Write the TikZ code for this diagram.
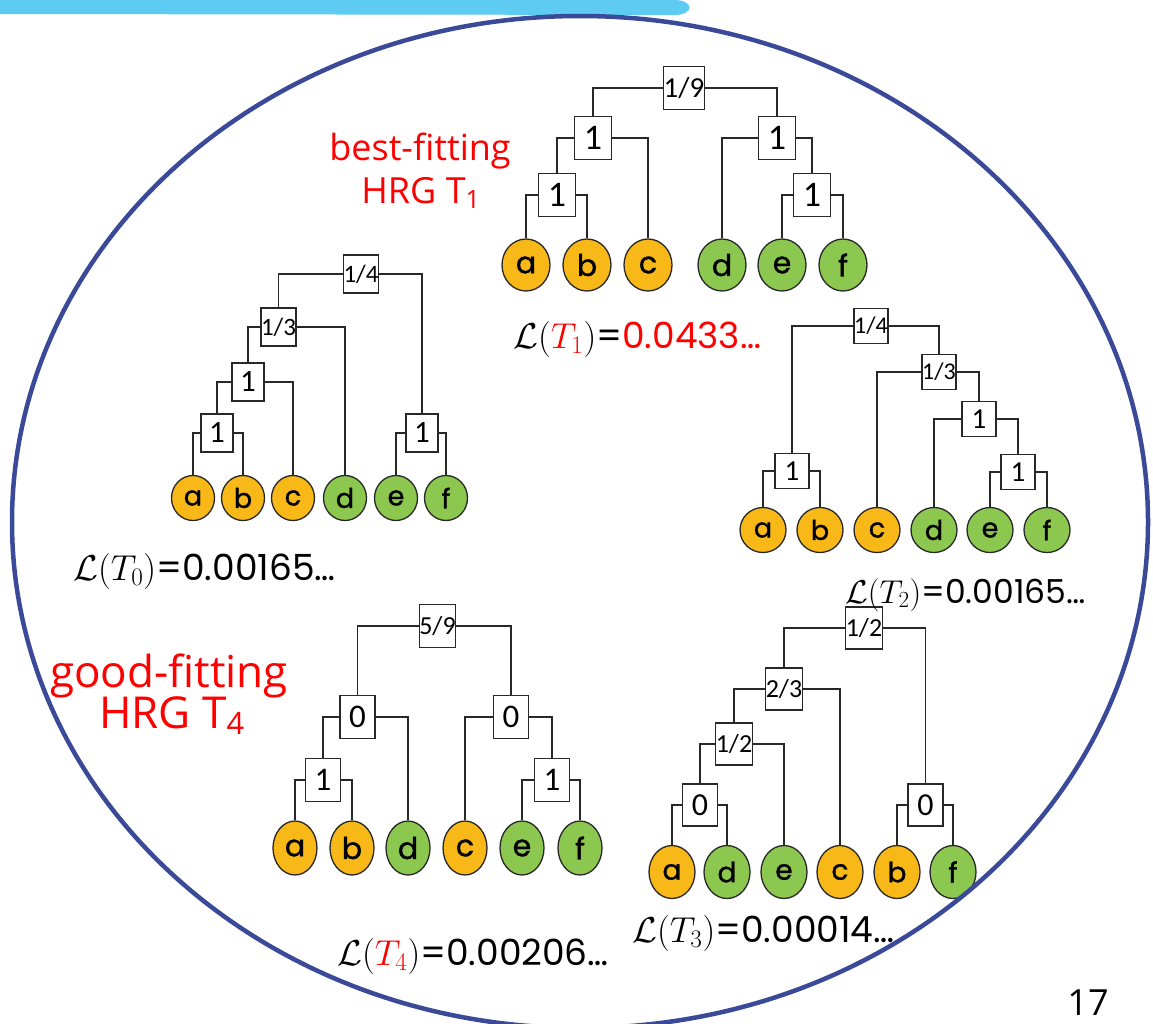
\RequirePackage{fix-cm}
\documentclass[tikz,border=0pt]{standalone}
\usepackage[no-math]{fontspec}
\setmainfont{Poppins}
\newfontfamily\leaffont{Poppins}[FakeBold=1.2]
\newfontfamily\boxfont{Carlito}
\newfontfamily\handfont{Open Sans}
\usepackage{amsmath}
\usepackage{xcolor}
\usetikzlibrary{shapes.geometric}

\definecolor{barblue}{RGB}{94,203,243}
\definecolor{ringblue}{RGB}{58,74,152}
\definecolor{leaforange}{RGB}{248,184,24}
\definecolor{leafgreen}{RGB}{140,200,80}
\definecolor{linegray}{RGB}{40,40,40}

\tikzstyle{leafnode}=[ellipse, draw=linegray, line width=1.3pt, inner sep=0pt, minimum width=46, minimum height=48, text=black, font=\leaffont\fontsize{28}{28}\selectfont]
\tikzstyle{lo}=[leafnode, fill=leaforange]
\tikzstyle{lg}=[leafnode, fill=leafgreen]
\tikzstyle{bx}=[rectangle, draw=linegray, line width=1.3pt, fill=white, inner sep=0pt, minimum width=35, minimum height=42, font=\boxfont\fontsize{27}{27}\selectfont]
\tikzstyle{fr}=[font=\boxfont\fontsize{21}{21}\selectfont]
\tikzstyle{br}=[draw=linegray, line width=1.6pt]
\tikzstyle{val}=[inner sep=0pt, anchor=base west, font=\fontsize{36}{36}\selectfont]
\tikzstyle{lbl}=[inner sep=0pt, anchor=base, text=red, font=\handfont\fontsize{36}{36}\selectfont]

\begin{document}
\begin{tikzpicture}[x=1pt, y=-1pt]
\useasboundingbox (0,0) rectangle (1153,1023);

% title bar
\fill[barblue] (0,0) -- (676,0) .. controls (694,1) and (694,14) .. (676,15) -- (0,14) -- cycle;

% T1
\begin{scope}[leafnode/.append style={minimum width=48, minimum height=52, font=\leaffont\fontsize{30}{30}\selectfont},
  bx/.append style={minimum width=37, minimum height=43, font=\boxfont\fontsize{36}{36}\selectfont},
  fr/.style={font=\boxfont\fontsize{29}{29}\selectfont}]
	\node[lo] (a1) at (526, 265) {a};
	\node[lo] (b1) at (587, 265) {b};
	\node[lo] (c1) at (648, 265) {c};
	\node[lg] (d1) at (722, 265) {d};
	\node[lg] (e1) at (782, 265) {e};
	\node[lg] (f1) at (843, 265) {f};
	\node[bx, fr] (r1) at (684, 88) {1/9};
	\node[bx] (abc1) at (593, 138) {1};
	\node[bx] (ab1) at (557, 195) {1};
	\node[bx] (def1) at (777, 138) {1};
	\node[bx] (ef1) at (812, 195) {1};
	\draw[br] (r1.west) -| (abc1.north);
	\draw[br] (r1.east) -| (def1.north);
	\draw[br] (abc1.west) -| (ab1.north);
	\draw[br] (abc1.east) -| (c1.north);
	\draw[br] (ab1.west) -| (a1.north);
	\draw[br] (ab1.east) -| (b1.north);
	\draw[br] (def1.west) -| (d1.north);
	\draw[br] (def1.east) -| (ef1.north);
	\draw[br] (ef1.west) -| (e1.north);
	\draw[br] (ef1.east) -| (f1.north);
\end{scope}

% T0
\begin{scope}[leafnode/.append style={minimum width=43, minimum height=45, font=\leaffont\fontsize{27}{27}\selectfont},
  bx/.append style={minimum width=32, minimum height=38, font=\boxfont\fontsize{31}{31}\selectfont},
  fr/.style={font=\boxfont\fontsize{25}{25}\selectfont}]
	\node[lo] (a0) at (193, 498) {a};
	\node[lo] (b0) at (243, 498) {b};
	\node[lo] (c0) at (293, 498) {c};
	\node[lg] (d0) at (345, 498) {d};
	\node[lg] (e0) at (396, 498) {e};
	\node[lg] (f0) at (446, 498) {f};
	\node[bx, fr] (r0) at (361, 274) {1/4};
	\node[bx, fr] (abcd0) at (278.5, 327) {1/3};
	\node[bx] (abc0) at (248, 382) {1};
	\node[bx] (ab0) at (217, 433) {1};
	\node[bx] (ef0) at (422, 433) {1};
	\draw[br] (r0.west) -| (abcd0.north);
	\draw[br] (r0.east) -| (ef0.north);
	\draw[br] (abcd0.west) -| (abc0.north);
	\draw[br] (abcd0.east) -| (d0.north);
	\draw[br] (abc0.west) -| (ab0.north);
	\draw[br] (abc0.east) -| (c0.north);
	\draw[br] (ab0.west) -| (a0.north);
	\draw[br] (ab0.east) -| (b0.north);
	\draw[br] (ef0.west) -| (e0.north);
	\draw[br] (ef0.east) -| (f0.north);
\end{scope}

% T2
\begin{scope}[leafnode/.append style={minimum width=46, minimum height=45, font=\leaffont\fontsize{27}{27}\selectfont},
  bx/.append style={minimum width=34, minimum height=35, font=\boxfont\fontsize{29}{29}\selectfont},
  fr/.style={font=\boxfont\fontsize{24}{24}\selectfont}]
	\node[lo] (a2) at (763, 530) {a};
	\node[lo] (b2) at (820, 530) {b};
	\node[lo] (c2) at (877, 530) {c};
	\node[lg] (d2) at (934, 530) {d};
	\node[lg] (e2) at (990, 530) {e};
	\node[lg] (f2) at (1047, 530) {f};
	\node[bx, fr] (r2) at (871, 326) {1/4};
	\node[bx, fr] (cdef2) at (939, 372) {1/3};
	\node[bx] (def2) at (979, 419) {1};
	\node[bx] (ef2) at (1018, 472) {1};
	\node[bx] (ab2) at (792, 471) {1};
	\draw[br] (r2.west) -| (ab2.north);
	\draw[br] (r2.east) -| (cdef2.north);
	\draw[br] (cdef2.west) -| (c2.north);
	\draw[br] (cdef2.east) -| (def2.north);
	\draw[br] (def2.west) -| (d2.north);
	\draw[br] (def2.east) -| (ef2.north);
	\draw[br] (ef2.west) -| (e2.north);
	\draw[br] (ef2.east) -| (f2.north);
	\draw[br] (ab2.west) -| (a2.north);
	\draw[br] (ab2.east) -| (b2.north);
\end{scope}

% T4
\begin{scope}[leafnode/.append style={minimum width=44, minimum height=54, font=\leaffont\fontsize{30}{30}\selectfont},
  bx/.append style={minimum width=35, minimum height=43, font=\boxfont\fontsize{33}{33}\selectfont},
  fr/.style={font=\boxfont\fontsize{26}{26}\selectfont}]
	\node[lo] (a4) at (295, 848) {a};
	\node[lo] (b4) at (352, 848) {b};
	\node[lg] (d4) at (408, 848) {d};
	\node[lo] (c4) at (465, 848) {c};
	\node[lg] (e4) at (522, 848) {e};
	\node[lg] (f4) at (580, 848) {f};
	\node[bx, fr] (r4) at (437.5, 626) {5/9};
	\node[bx] (abd4) at (357.5, 717) {0};
	\node[bx] (ab4) at (323, 780) {1};
	\node[bx] (cef4) at (511, 717) {0};
	\node[bx] (ef4) at (552, 780) {1};
	\draw[br] (r4.west) -| (abd4.north);
	\draw[br] (r4.east) -| (cef4.north);
	\draw[br] (abd4.west) -| (ab4.north);
	\draw[br] (abd4.east) -| (d4.north);
	\draw[br] (ab4.west) -| (a4.north);
	\draw[br] (ab4.east) -| (b4.north);
	\draw[br] (cef4.west) -| (c4.north);
	\draw[br] (cef4.east) -| (ef4.north);
	\draw[br] (ef4.west) -| (e4.north);
	\draw[br] (ef4.east) -| (f4.north);
\end{scope}

% T3
\begin{scope}[leafnode/.append style={minimum width=46, minimum height=53, font=\leaffont\fontsize{28}{28}\selectfont},
  bx/.append style={minimum width=35, minimum height=42, font=\boxfont\fontsize{32}{32}\selectfont},
  fr/.style={font=\boxfont\fontsize{26}{26}\selectfont}]
	\node[lo] (a3) at (672, 872) {a};
	\node[lg] (d3) at (727, 872) {d};
	\node[lg] (e3) at (784, 872) {e};
	\node[lo] (c3) at (840, 872) {c};
	\node[lo] (b3) at (897, 872) {b};
	\node[lg] (f3) at (953, 872) {f};
	\node[bx, fr] (r3) at (864, 628) {1/2};
	\node[bx, fr] (adec3) at (784, 689) {2/3};
	\node[bx, fr] (ade3) at (734, 744) {1/2};
	\node[bx] (ad3) at (700, 805) {0};
	\node[bx] (bf3) at (925.5, 805) {0};
	\draw[br] (r3.west) -| (adec3.north);
	\draw[br] (r3.east) -| (bf3.north);
	\draw[br] (adec3.west) -| (ade3.north);
	\draw[br] (adec3.east) -| (c3.north);
	\draw[br] (ade3.west) -| (ad3.north);
	\draw[br] (ade3.east) -| (e3.north);
	\draw[br] (ad3.west) -| (a3.north);
	\draw[br] (ad3.east) -| (d3.north);
	\draw[br] (bf3.west) -| (b3.north);
	\draw[br] (bf3.east) -| (f3.north);
\end{scope}

% likelihoods
\node[val] (lik1) at (513, 348) {$\mathcal{L}({\color{red}T_{1}})$=\textcolor{red}{0.0433…}};
\node[val] (lik0) at (73, 580) {$\mathcal{L}(T_{0})$=0.00165…};
\node[val, font=\fontsize{33}{33}\selectfont] (lik2) at (845, 603) {$\mathcal{L}(T_{2})$=0.00165…};
\node[val] (lik4) at (337, 965) {$\mathcal{L}({\color{red}T_{4}})$=0.00206…};
\node[val] (lik3) at (632, 942) {$\mathcal{L}(T_{3})$=0.00014…};

% red remarks
\node[lbl] (best) at (420, 160) {best-fitting};
\node[lbl] (besthrg) at (421, 203) {HRG T\textsubscript{1}};
\node[lbl, font=\handfont\fontsize{44}{44}\selectfont] (good) at (169, 687) {good-fitting};
\node[lbl, font=\handfont\fontsize{44}{44}\selectfont] (goodhrg) at (172, 728) {HRG T\textsubscript{4}};

\node[inner sep=0pt, anchor=base, font=\handfont\fontsize{36}{36}\selectfont] (page) at (1088, 1015) {17};

% surrounding ring
\draw[ringblue, line width=4.5pt] (580, 522) ellipse [x radius=568, y radius=506];
\end{tikzpicture}
\end{document}
